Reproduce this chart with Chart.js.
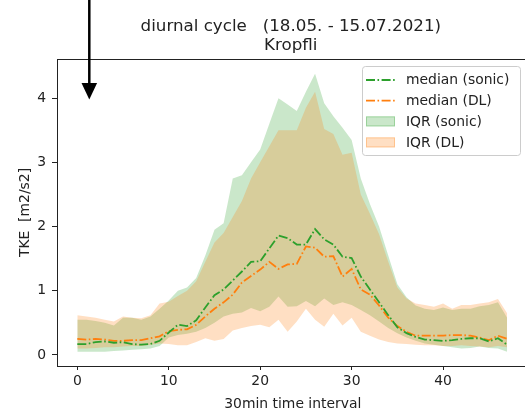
<!DOCTYPE html>
<html>
<head>
<meta charset="utf-8">
<script src="https://cdn.jsdelivr.net/npm/chart.js@4"></script>
<style>
  html, body { margin: 0; padding: 0; overflow: hidden; background: #fff; }
  #wrap { position: absolute; left: 0; top: 0; width: 530px; height: 412px; }
</style>
</head>
<body>
<div id="wrap"><canvas id="chart"></canvas></div>
<script>
// 30min intervals of the day
const intervals = [0,1,2,3,4,5,6,7,8,9,10,11,12,13,14,15,16,17,18,19,20,21,22,23,
  24,25,26,27,28,29,30,31,32,33,34,35,36,37,38,39,40,41,42,43,44,45,46,47];

const medianSonic = [0.17,0.17,0.20,0.21,0.19,0.20,0.17,0.16,0.17,0.22,0.35,0.47,0.45,0.54,0.74,0.93,1.02,1.16,1.30,1.45,1.46,1.66,1.86,1.82,
  1.72,1.72,1.96,1.80,1.72,1.53,1.51,1.22,1.02,0.82,0.62,0.43,0.34,0.28,0.24,0.23,0.22,0.23,0.25,0.26,0.26,0.21,0.26,0.16];
const medianDL = [0.25,0.24,0.25,0.24,0.22,0.22,0.23,0.23,0.26,0.29,0.37,0.39,0.40,0.47,0.60,0.72,0.82,0.94,1.13,1.23,1.33,1.45,1.34,1.41,
  1.42,1.69,1.67,1.53,1.54,1.22,1.34,1.02,0.94,0.77,0.58,0.45,0.36,0.30,0.30,0.30,0.30,0.31,0.31,0.30,0.27,0.23,0.30,0.25];

const sonicLow = [0.05,0.05,0.05,0.05,0.06,0.07,0.08,0.09,0.10,0.14,0.27,0.31,0.33,0.36,0.42,0.50,0.60,0.64,0.66,0.73,0.68,0.75,0.91,0.75,
  0.76,0.84,0.76,0.88,0.78,0.82,0.78,0.70,0.62,0.52,0.42,0.34,0.27,0.22,0.18,0.16,0.14,0.12,0.10,0.11,0.13,0.11,0.10,0.05];
const sonicHigh = [0.55,0.55,0.53,0.50,0.46,0.58,0.58,0.55,0.60,0.72,0.85,1.00,1.05,1.20,1.55,1.95,2.05,2.75,2.80,3.00,3.20,3.60,4.00,3.90,
  3.80,4.10,4.38,3.92,3.72,3.54,3.35,2.75,2.35,2.00,1.55,1.10,0.90,0.77,0.72,0.70,0.74,0.70,0.72,0.72,0.76,0.78,0.82,0.58];

const dlLow = [0.10,0.10,0.11,0.12,0.12,0.13,0.14,0.14,0.16,0.18,0.17,0.15,0.15,0.20,0.26,0.22,0.25,0.38,0.42,0.45,0.47,0.43,0.55,0.36,
  0.52,0.72,0.55,0.44,0.64,0.46,0.58,0.36,0.30,0.24,0.20,0.18,0.17,0.16,0.15,0.15,0.14,0.14,0.15,0.14,0.13,0.12,0.14,0.12];
const dlHigh = [0.62,0.60,0.58,0.55,0.52,0.60,0.58,0.57,0.62,0.80,0.83,0.92,1.00,1.15,1.45,1.75,1.90,2.15,2.40,2.75,3.00,3.25,3.50,3.50,
  3.50,3.85,4.10,3.52,3.44,3.12,3.15,2.50,2.20,1.88,1.45,1.05,0.88,0.80,0.78,0.75,0.80,0.72,0.78,0.78,0.80,0.82,0.87,0.65];

const xTicks = [0, 10, 20, 30, 40];
const yTicks = [0, 1, 2, 3, 4];

const GREEN = '#2ca02c';
const ORANGE = '#ff7f0e';
const GREEN_FILL = 'rgba(44,160,44,0.25)';
const ORANGE_FILL = 'rgba(255,127,14,0.25)';
const FONT = '"DejaVu Sans", sans-serif';
const DASH = [9, 2.5, 1.6, 2.5];

function pts(arr) {
  return intervals.map((x, i) => ({ x: x, y: arr[i] }));
}

// titles, frame, arrow and legend
const extras = {
  id: 'extras',
  afterDraw(chart) {
    const ctx = chart.ctx;
    const a = chart.chartArea;
    ctx.save();

    // frame
    ctx.strokeStyle = '#222';
    ctx.lineWidth = 1;
    ctx.strokeRect(a.left + 0.5, a.top + 0.5, a.right - a.left, a.bottom - a.top);

    // title
    const cx = (a.left + a.right) / 2;
    ctx.fillStyle = '#222';
    ctx.textAlign = 'center';
    ctx.textBaseline = 'alphabetic';
    ctx.font = '16.7px ' + FONT;
    ctx.fillText('diurnal cycle   (18.05. - 15.07.2021)', cx - 2, 30.5);
    ctx.fillText('Kropfli', cx - 2, 50);

    // axis labels
    ctx.font = '13.9px ' + FONT;
    ctx.fillText('30min time interval', cx, 408);
    ctx.save();
    ctx.translate(28.5, (a.top + a.bottom) / 2);
    ctx.rotate(-Math.PI / 2);
    ctx.fillText('TKE  [m2/s2]', 0, 0);
    ctx.restore();

    // arrow
    ctx.strokeStyle = '#000';
    ctx.fillStyle = '#000';
    ctx.lineWidth = 2.5;
    ctx.beginPath();
    ctx.moveTo(89.3, 0);
    ctx.lineTo(89.3, 84);
    ctx.stroke();
    ctx.beginPath();
    ctx.moveTo(81.5, 83);
    ctx.lineTo(97.1, 83);
    ctx.lineTo(89.3, 99.5);
    ctx.closePath();
    ctx.fill();

    // legend
    const lx = 362, ly = 66, lw = 158, lh = 89;
    ctx.fillStyle = 'rgba(255,255,255,0.8)';
    ctx.strokeStyle = '#cccccc';
    ctx.lineWidth = 1;
    ctx.beginPath();
    ctx.roundRect(lx + 0.5, ly + 0.5, lw, lh, 3);
    ctx.fill();
    ctx.stroke();

    const rows = [80, 100.7, 121.4, 142.4];
    ctx.font = '13.9px ' + FONT;
    ctx.textAlign = 'left';
    ctx.textBaseline = 'middle';
    const items = [
      { type: 'line', color: GREEN, text: 'median (sonic)' },
      { type: 'line', color: ORANGE, text: 'median (DL)' },
      { type: 'box', color: GREEN_FILL, edge: 'rgba(44,160,44,0.3)', text: 'IQR (sonic)' },
      { type: 'box', color: ORANGE_FILL, edge: 'rgba(255,127,14,0.3)', text: 'IQR (DL)' }
    ];
    items.forEach((it, i) => {
      const y = rows[i];
      if (it.type === 'line') {
        ctx.strokeStyle = it.color;
        ctx.lineWidth = 1.8;
        ctx.setLineDash(DASH);
        ctx.beginPath();
        ctx.moveTo(366, y);
        ctx.lineTo(395, y);
        ctx.stroke();
        ctx.setLineDash([]);
      } else {
        ctx.fillStyle = it.color;
        ctx.fillRect(366, y - 5, 29, 10);
        ctx.strokeStyle = it.edge;
        ctx.lineWidth = 1;
        ctx.strokeRect(366.5, y - 4.5, 28, 9);
      }
      ctx.fillStyle = '#222';
      ctx.fillText(it.text, 406, y + 0.5);
    });

    ctx.restore();
  }
};

new Chart(document.getElementById('chart'), {
  type: 'line',
  data: {
    datasets: [
      { label: 'median (sonic)', data: pts(medianSonic), borderColor: GREEN, borderWidth: 1.8,
        borderDash: DASH, pointRadius: 0, fill: false },
      { label: 'median (DL)', data: pts(medianDL), borderColor: ORANGE, borderWidth: 1.8,
        borderDash: DASH, pointRadius: 0, fill: false },
      { label: 'IQR (DL)', data: pts(dlHigh), borderWidth: 0, pointRadius: 0,
        backgroundColor: ORANGE_FILL, fill: { target: 3 } },
      { label: 'DL low', data: pts(dlLow), borderWidth: 0, pointRadius: 0, fill: false },
      { label: 'IQR (sonic)', data: pts(sonicHigh), borderWidth: 0, pointRadius: 0,
        backgroundColor: GREEN_FILL, fill: { target: 5 } },
      { label: 'sonic low', data: pts(sonicLow), borderWidth: 0, pointRadius: 0, fill: false }
    ]
  },
  options: {
    responsive: true,
    maintainAspectRatio: false,
    animation: false,
    events: [],
    layout: { padding: { left: 0, right: 1.4, top: 59, bottom: 0 } },
    plugins: {
      legend: { display: false },
      title: { display: false },
      tooltip: { enabled: false }
    },
    scales: {
      x: {
        type: 'linear',
        min: -2.22,
        max: 49.35,
        afterFit: s => { s.height = 46; },
        afterBuildTicks: s => { s.ticks = xTicks.map(v => ({ value: v })); },
        grid: { drawOnChartArea: false, tickLength: 4, tickColor: '#222' },
        border: { display: false },
        ticks: { color: '#222', font: { family: FONT, size: 13.9 }, padding: 3, maxRotation: 0 }
      },
      y: {
        min: -0.172,
        max: 4.61,
        afterFit: s => { s.width = 57; },
        afterBuildTicks: s => { s.ticks = yTicks.map(v => ({ value: v })); },
        grid: { drawOnChartArea: false, tickLength: 5, tickColor: '#222' },
        border: { display: false },
        ticks: { color: '#222', font: { family: FONT, size: 13.9 }, padding: 6 }
      }
    }
  },
  plugins: [extras]
});
</script>
</body>
</html>
